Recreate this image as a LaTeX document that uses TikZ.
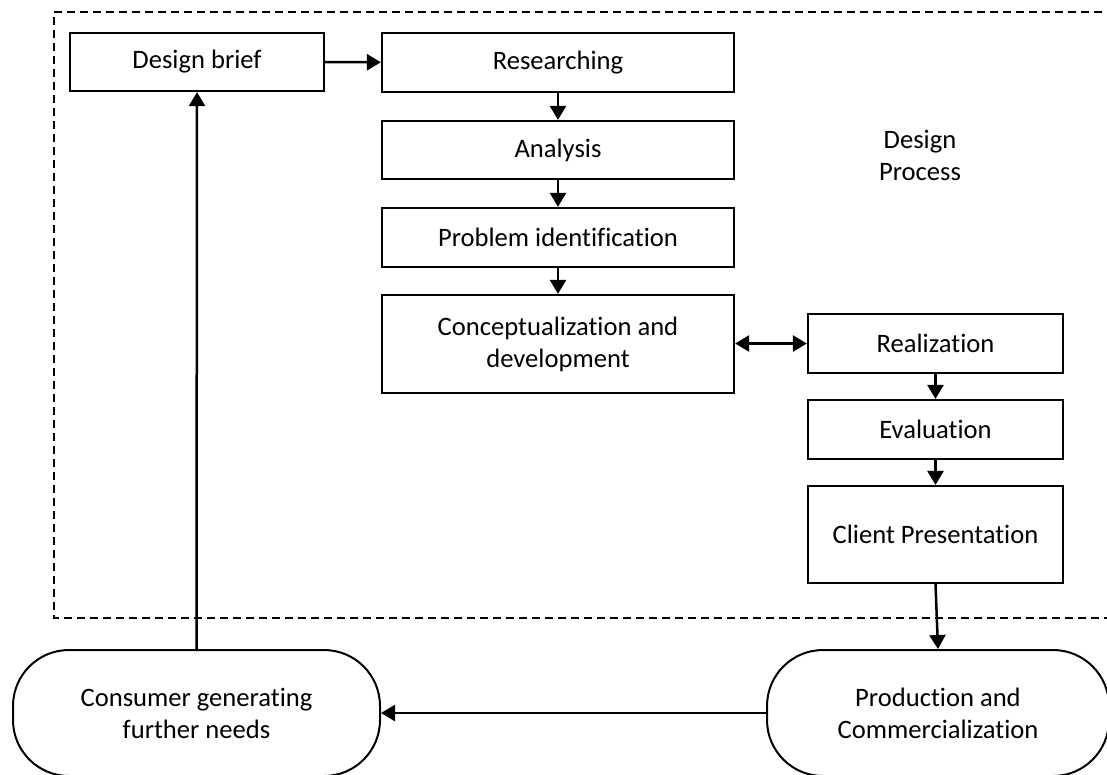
\documentclass[tikz,border=0pt]{standalone}
\usepackage{fontspec}
\setmainfont[Ligatures={NoCommon}]{Carlito}
\usetikzlibrary{arrows.meta}
\begin{document}
\begin{tikzpicture}[x=1pt,y=-1pt,
  every node/.style={font=\fontsize{26.6}{32}\selectfont, inner sep=0pt, align=center},
  box/.style={draw, line width=2.2pt, minimum width=352pt, minimum height=59pt},
  sbox/.style={draw, line width=2.2pt, minimum width=255pt, minimum height=59pt},
  pill/.style={draw, line width=2pt, rounded corners=56pt, minimum height=126pt},
  arr/.style={line width=2.5pt, -{Triangle[length=14pt,width=16pt]}},
  dbl/.style={line width=2.5pt, {Triangle[length=14pt,width=16pt]}-{Triangle[length=14pt,width=16pt]}}]
\clip (0,0) rectangle (1107,774);
\fill[white] (0,0) rectangle (1107,774);
% dashed frame
\draw[line width=1.6pt, dash pattern=on 8pt off 5pt] (1115,12) -- (54,12) -- (54,618) -- (1115,618);
% nodes
\node[sbox, minimum width=254pt, minimum height=58pt] (brief) at (197,62) {Design brief};
\node[box] (research) at (558,62.5) {Researching};
\node[box, minimum height=58pt] (analysis) at (558,150) {Analysis};
\node[box] (problem) at (558,237.5) {Problem identification};
\node[box, minimum height=98pt] (concept) at (558,344) {Conceptualization and\\development};
\node[sbox] (real) at (935.5,343.5) {Realization};
\node[sbox] (eval) at (935.5,429.5) {Evaluation};
\node[sbox, minimum height=97pt] (client) at (935.5,534.5) {Client Presentation};
\node (dp) at (920,155) {Design\\Process};
\node[pill, minimum width=367pt] (consumer) at (196.5,713) {Consumer generating\\further needs};
\node[pill, minimum width=342pt] (prod) at (938,713) {Production and\\Commercialization};
% connectors
\draw[arr] (brief) -- (research);
\draw[arr] (research) -- (analysis);
\draw[arr] (analysis) -- (problem);
\draw[arr] (problem) -- (concept);
\draw[dbl] (concept.east |- real.west) -- (real.west);
\draw[arr] (real) -- (eval);
\draw[arr] (eval) -- (client);
\draw[arr] (client.south) -- (prod.north);
\draw[arr] (prod.west) -- (consumer.east);
\draw[arr] (consumer.north) -- (brief.south);
\end{tikzpicture}
\end{document}
